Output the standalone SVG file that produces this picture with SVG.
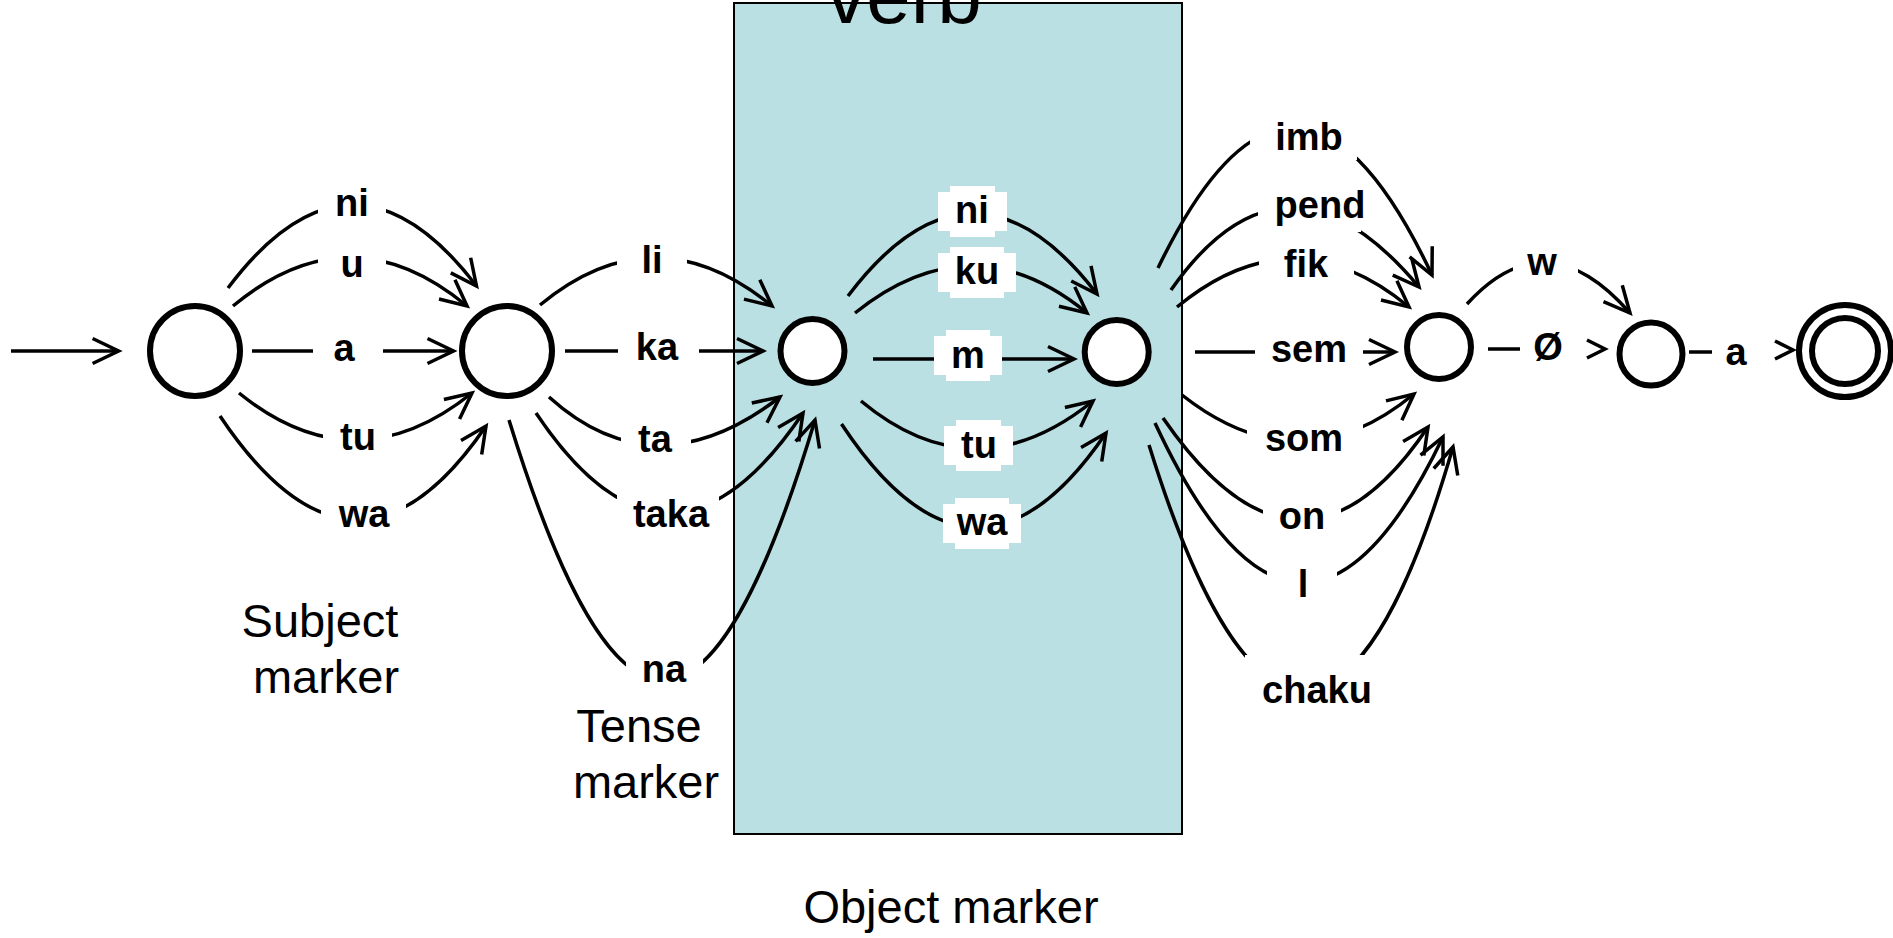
<svg xmlns="http://www.w3.org/2000/svg" width="1893" height="938" viewBox="0 0 1893 938">
<style>
.edge{fill:none;stroke:#000;stroke-width:3.5;marker-end:url(#arr)}
.edge2{fill:none;stroke:#000;stroke-width:3.5;marker-end:url(#arrs)}
.st{fill:#fff;stroke:#000;stroke-width:6}
.lbl{font-family:"Liberation Sans",Arial,sans-serif;font-weight:bold;font-size:38px;text-anchor:middle;fill:#000}
.bg{fill:#fff;stroke:none}
.cap{font-family:"Liberation Sans",Arial,sans-serif;font-size:47px;text-anchor:middle;fill:#000}
</style>
<defs>
<marker id="arr" markerUnits="userSpaceOnUse" viewBox="-32 -16 36 32" markerWidth="36" markerHeight="32" refX="0" refY="0" orient="auto" overflow="visible">
<path d="M-26,-12.5 L0,0 L-26,12.5" fill="none" stroke="#000" stroke-width="3.5"/>
</marker>
<marker id="arrs" markerUnits="userSpaceOnUse" viewBox="-24 -12 28 24" markerWidth="28" markerHeight="24" refX="0" refY="0" orient="auto" overflow="visible">
<path d="M-18,-9 L0,0 L-18,9" fill="none" stroke="#000" stroke-width="3.5"/>
</marker>
</defs>
<rect width="1893" height="938" fill="#fff"/>
<g id="verb-box">
<rect x="734" y="3" width="448" height="831" fill="#BAE0E3" stroke="#000" stroke-width="2"/>
</g>
<g id="connectors">
<path class="edge" d="M11,351 L118.6,351"/>
<path class="edge" d="M228,288 Q352,123 476.5,286"/>
<path class="edge" d="M233,306 Q350,209 467,306"/>
<path class="edge" d="M252,351 L453.5,351"/>
<path class="edge" d="M239,393 Q355,487 472,393"/>
<path class="edge" d="M220,416 Q355,618 486,426"/>
<path class="edge" d="M540,305 Q655,210 772,306"/>
<path class="edge" d="M565,351 L763,351"/>
<path class="edge" d="M549,397 Q655,493 780,397"/>
<path class="edge" d="M536,413 Q669,612 803,413"/>
<path class="edge" d="M509,420 C616,767 711,767 815,420"/>
<path class="edge" d="M848,296 Q972,132 1097,294"/>
<path class="edge" d="M855,313 Q972,219 1087,313"/>
<path class="edge" d="M873,359 L1074,359"/>
<path class="edge" d="M861,401 Q975,496 1093,401"/>
<path class="edge" d="M841.5,424 Q975,626 1106,433"/>
<path class="edge" d="M1158,268 Q1295,-16 1432,275"/>
<path class="edge" d="M1171,290 Q1285,127 1419,287"/>
<path class="edge" d="M1177,307 Q1293,211 1409,307"/>
<path class="edge" d="M1195,352 L1395,352"/>
<path class="edge" d="M1182,395 Q1300,488 1414,394"/>
<path class="edge" d="M1163,418 Q1300,617 1428,427"/>
<path class="edge" d="M1155,423 Q1300,735 1443,437"/>
<path class="edge" d="M1149,445 C1250,771 1359,771 1453,447"/>
<path class="edge" d="M1467,304 Q1546,217 1630,313"/>
<path class="edge2" d="M1488,349 L1520,349 M1602,349 L1605,349"/>
<path class="edge2" d="M1689,352 L1712,352 M1790,350 L1793,350"/>
</g>
<g id="edge-labels">
<rect class="bg" x="318" y="190" width="68" height="28"/><text class="lbl" x="352" y="216">ni</text>
<rect class="bg" x="318" y="245" width="68" height="27"/><text class="lbl" x="352" y="277">u</text>
<rect class="bg" x="313" y="340" width="70" height="22"/><text class="lbl" x="344" y="361">a</text>
<rect class="bg" x="323" y="428" width="69" height="22"/><text class="lbl" x="358" y="450">tu</text>
<rect class="bg" x="321" y="498" width="85" height="29"/><text class="lbl" x="364" y="527">wa</text>
<rect class="bg" x="617" y="246" width="70" height="24"/><text class="lbl" x="652" y="273">li</text>
<rect class="bg" x="618" y="340" width="81" height="22"/><text class="lbl" x="657" y="360">ka</text>
<rect class="bg" x="621" y="430" width="70" height="24"/><text class="lbl" x="655" y="452">ta</text>
<rect class="bg" x="617" y="485" width="102" height="35"/><text class="lbl" x="671" y="527">taka</text>
<rect class="bg" x="626" y="650" width="77" height="40"/><text class="lbl" x="664" y="682">na</text>
<polygon class="bg" points="950,186 995,186 995,192 1007,192 1007,231 995,231 995,237 950,237 950,231 938,231 938,192 950,192"/><text class="lbl" x="972" y="223">ni</text>
<polygon class="bg" points="950,247 1004,247 1004,253 1016,253 1016,292 1004,292 1004,298 950,298 950,292 938,292 938,253 950,253"/><text class="lbl" x="977" y="284">ku</text>
<polygon class="bg" points="946,330 990,330 990,336 1002,336 1002,375 990,375 990,381 946,381 946,375 934,375 934,336 946,336"/><text class="lbl" x="968" y="368">m</text>
<polygon class="bg" points="956,420 1001,420 1001,426 1013,426 1013,465 1001,465 1001,471 956,471 956,465 944,465 944,426 956,426"/><text class="lbl" x="979" y="458">tu</text>
<polygon class="bg" points="955,498 1009,498 1009,504 1021,504 1021,543 1009,543 1009,549 955,549 955,543 943,543 943,504 955,504"/><text class="lbl" x="982" y="535">wa</text>
<rect class="bg" x="1250" y="112" width="107" height="48"/><text class="lbl" x="1309" y="150">imb</text>
<rect class="bg" x="1258" y="190" width="103" height="42"/><text class="lbl" x="1320" y="218">pend</text>
<rect class="bg" x="1259" y="240" width="95" height="38"/><text class="lbl" x="1306" y="277">fik</text>
<rect class="bg" x="1255" y="338" width="108" height="28"/><text class="lbl" x="1309" y="362">sem</text>
<rect class="bg" x="1247" y="420" width="116" height="36"/><text class="lbl" x="1304" y="451">som</text>
<rect class="bg" x="1263" y="500" width="78" height="32"/><text class="lbl" x="1302" y="529">on</text>
<rect class="bg" x="1267" y="560" width="70" height="40"/><text class="lbl" x="1303" y="597">l</text>
<rect class="bg" x="1245" y="655" width="120" height="55"/><text class="lbl" x="1317" y="703">chaku</text>
<rect class="bg" x="1513" y="252" width="65" height="24"/><text class="lbl" x="1542" y="275">w</text>
<text class="lbl" x="1548" y="360">Ø</text>
<text class="lbl" x="1736" y="365">a</text>
</g>
<g id="node1"><circle class="st" cx="195" cy="351" r="45"/></g>
<g id="node2"><circle class="st" cx="507" cy="351" r="45"/></g>
<g id="node3"><circle class="st" cx="812.5" cy="351" r="32"/></g>
<g id="node4"><circle class="st" cx="1116.7" cy="352" r="32"/></g>
<g id="node5"><circle class="st" cx="1439" cy="347" r="32"/></g>
<g id="node6"><circle class="st" cx="1651" cy="354" r="31.5"/></g>
<g id="node7"><circle class="st" cx="1845" cy="351" r="46"/><circle class="st" cx="1845" cy="351" r="33"/></g>
<g id="annotations">
<text class="cap" x="904" y="23" style="font-size:80px">verb</text>
<text class="cap" x="320" y="637">Subject</text>
<text class="cap" x="326" y="693">marker</text>
<text class="cap" x="639" y="742">Tense</text>
<text class="cap" x="646" y="798">marker</text>
<text class="cap" x="951" y="923">Object marker</text>
</g>
</svg>
